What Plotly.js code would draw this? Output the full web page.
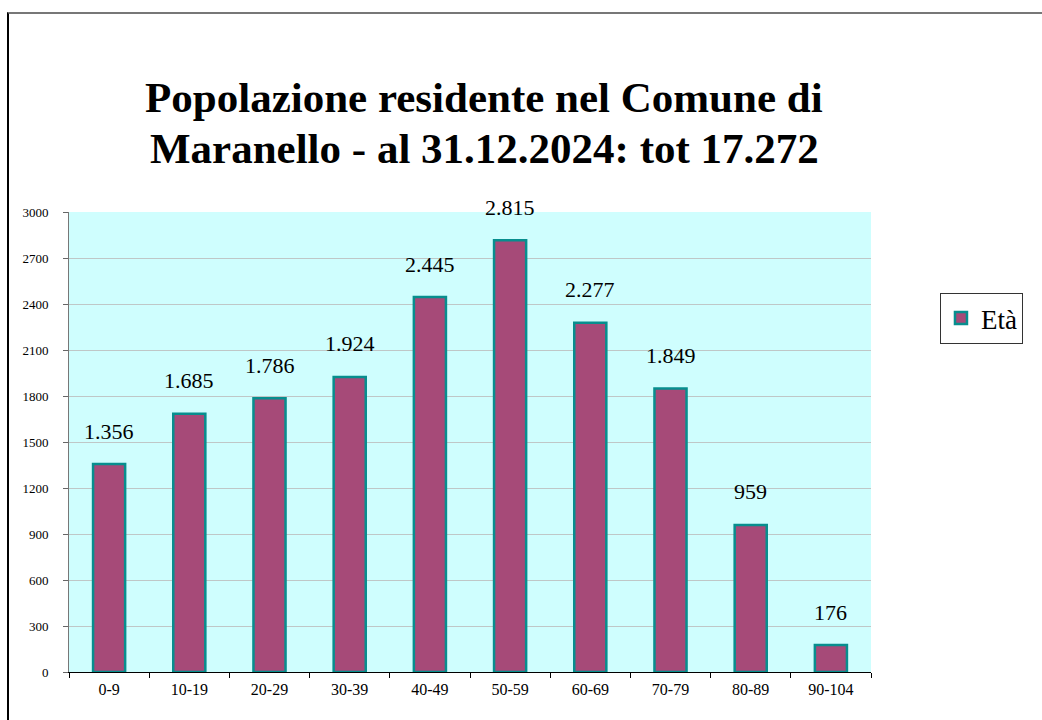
<!DOCTYPE html>
<html><head><meta charset="utf-8">
<script src="https://cdn.plot.ly/plotly-3.0.1.min.js"></script>
<style>
html,body{margin:0;padding:0;background:#fff;}
#wrap{position:relative;width:1042px;height:720px;}
#chart{position:absolute;left:0;top:0;width:1042px;height:720px;}
#frame{position:absolute;left:7px;top:12px;width:1100px;height:800px;border-left:2px solid #000;border-top:2px solid #777;pointer-events:none;}
</style></head>
<body><div id="wrap"><div id="chart"></div><div id="frame"></div></div>
<script>
const categories = ["0-9","10-19","20-29","30-39","40-49","50-59","60-69","70-79","80-89","90-104"];
const values = [1356,1685,1786,1924,2445,2815,2277,1849,959,176];
const seriesName = "Età";
const yTicks = [0,300,600,900,1200,1500,1800,2100,2400,2700,3000];
const titleLines = ["Popolazione residente nel Comune di", "Maranello - al 31.12.2024: tot 17.272"];

function fmtIt(v){ return String(v).replace(/\B(?=(\d{3})+(?!\d))/g, "."); }

const serif = "Liberation Serif, Times New Roman, serif";

const trace = {
  type: "bar", x: categories, y: values, name: seriesName,
  width: 0.4,
  marker: {color: "#A64A78", line: {color: "#078E8E", width: 2.5}},
  hoverinfo: "x+y"
};

const annotations = categories.map((c,i)=>({
  x: c, y: values[i], xref: "x", yref: "y", text: fmtIt(values[i]),
  showarrow: false, yanchor: "middle", yshift: 33,
  font: {family: serif, size: 22, color: "#000"}
}));
const titleY = [1.25, 1.137];
titleLines.forEach((t,i)=>annotations.push({
  text: "<b>" + t + "</b>", xref: "paper", yref: "paper",
  x: 0.5175, y: titleY[i], xanchor: "center", yanchor: "middle",
  showarrow: false, font: {family: serif, size: 43, color: "#000"}
}));

const layout = {
  width: 1042, height: 720,
  margin: {l: 69, r: 171, t: 212, b: 48},
  paper_bgcolor: "#ffffff", plot_bgcolor: "#CFFEFE",
  separators: ",.",
  xaxis: {
    type: "category", tickson: "boundaries", ticks: "outside", ticklen: 5,
    tickcolor: "#000", showline: true, linecolor: "#000", linewidth: 1,
    tickfont: {family: serif, size: 16, color: "#000"}, showgrid: false,
    ticklabelstandoff: 3
  },
  yaxis: {
    range: [0, 3000], tickvals: yTicks, tickformat: "d",
    ticks: "outside", ticklen: 5, tickcolor: "#666",
    showline: true, linecolor: "#777", linewidth: 1,
    gridcolor: "#BFC7C7", gridwidth: 1, zeroline: false,
    tickfont: {family: serif, size: 13, color: "#000"},
    ticklabelstandoff: 12
  },
  showlegend: true,
  legend: {
    x: 1.086, y: 0.824, xanchor: "left", yanchor: "top",
    bordercolor: "#333", borderwidth: 1, bgcolor: "#fff",
    font: {family: serif, size: 27, color: "#000"},
    itemwidth: 30
  },
  annotations: annotations,
  bargap: 0.6
};

Plotly.newPlot("chart", [trace], layout, {displayModeBar: false, staticPlot: true});
</script></body></html>
